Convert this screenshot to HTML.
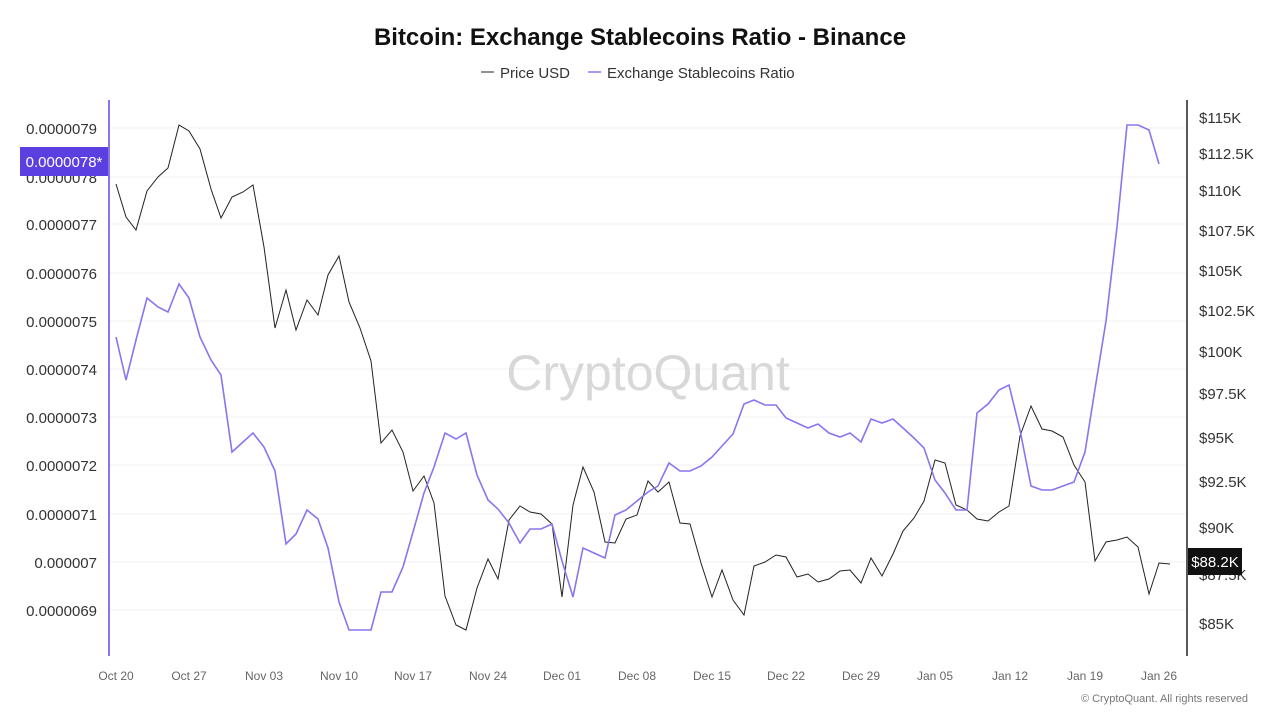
<!DOCTYPE html>
<html><head><meta charset="utf-8"><style>
body{margin:0;background:#fff;}
svg text{font-family:"Liberation Sans",sans-serif;}
</style></head><body>
<svg width="1280" height="720" xmlns="http://www.w3.org/2000/svg">
<rect width="1280" height="720" fill="#fff"/>
<text x="640" y="45" text-anchor="middle" font-size="24" font-weight="bold" fill="#111">Bitcoin: Exchange Stablecoins Ratio - Binance</text>
<line x1="481" y1="72" x2="494" y2="72" stroke="#222" stroke-width="1"/>
<text x="500" y="78" font-size="15" fill="#333">Price USD</text>
<line x1="588" y1="72" x2="601" y2="72" stroke="#8b74f0" stroke-width="1.5"/>
<text x="607" y="78" font-size="15" fill="#333">Exchange Stablecoins Ratio</text>
<g stroke="#f1f1f1" stroke-width="1">
<line x1="110" y1="128" x2="1186" y2="128"/><line x1="110" y1="177" x2="1186" y2="177"/><line x1="110" y1="224" x2="1186" y2="224"/><line x1="110" y1="273" x2="1186" y2="273"/><line x1="110" y1="321" x2="1186" y2="321"/><line x1="110" y1="369" x2="1186" y2="369"/><line x1="110" y1="417" x2="1186" y2="417"/><line x1="110" y1="465" x2="1186" y2="465"/><line x1="110" y1="514" x2="1186" y2="514"/><line x1="110" y1="562" x2="1186" y2="562"/><line x1="110" y1="610" x2="1186" y2="610"/>
</g>
<line x1="109" y1="100" x2="109" y2="656" stroke="#8b74f0" stroke-width="2"/>
<line x1="1187" y1="100" x2="1187" y2="656" stroke="#222" stroke-width="1.5"/>
<g font-size="15" fill="#333" text-anchor="end">
<text x="97" y="134">0.0000079</text><text x="97" y="183">0.0000078</text><text x="97" y="230">0.0000077</text><text x="97" y="279">0.0000076</text><text x="97" y="327">0.0000075</text><text x="97" y="375">0.0000074</text><text x="97" y="423">0.0000073</text><text x="97" y="471">0.0000072</text><text x="97" y="520">0.0000071</text><text x="97" y="568">0.000007</text><text x="97" y="616">0.0000069</text>
</g>
<g font-size="15" fill="#333">
<text x="1199" y="123">$115K</text><text x="1199" y="159">$112.5K</text><text x="1199" y="196">$110K</text><text x="1199" y="236">$107.5K</text><text x="1199" y="276">$105K</text><text x="1199" y="316">$102.5K</text><text x="1199" y="357">$100K</text><text x="1199" y="399">$97.5K</text><text x="1199" y="443">$95K</text><text x="1199" y="487">$92.5K</text><text x="1199" y="533">$90K</text><text x="1199" y="580">$87.5K</text><text x="1199" y="629">$85K</text>
</g>
<g font-size="12" fill="#666" text-anchor="middle">
<text x="116" y="680">Oct 20</text><text x="189" y="680">Oct 27</text><text x="264" y="680">Nov 03</text><text x="339" y="680">Nov 10</text><text x="413" y="680">Nov 17</text><text x="488" y="680">Nov 24</text><text x="562" y="680">Dec 01</text><text x="637" y="680">Dec 08</text><text x="712" y="680">Dec 15</text><text x="786" y="680">Dec 22</text><text x="861" y="680">Dec 29</text><text x="935" y="680">Jan 05</text><text x="1010" y="680">Jan 12</text><text x="1085" y="680">Jan 19</text><text x="1159" y="680">Jan 26</text>
</g>
<text x="648" y="390" text-anchor="middle" font-size="50" fill="#d8d8d8">CryptoQuant</text>
<polyline fill="none" stroke="#222" stroke-width="1" points="116,184 126,217 136,230 147,191 158,177 168,168 179,125 189,131 200,149 211,189 221,218 232,197 243,192 253,185 264,247 275,328 286,290 296,330 307,300 318,315 328,275 339,256 349,302 360,328 371,361 381,443 392,430 403,452 413,491 424,476 434,503 445,596 456,625 466,630 477,588 488,559 498,579 509,520 520,506 530,512 541,514 552,524 562,597 573,505 583,467 594,492 605,542 615,543 626,519 637,515 648,481 658,492 669,482 680,523 690,524 701,563 712,597 722,570 733,600 744,615 754,566 765,562 776,555 786,557 797,577 808,574 818,582 829,579 840,571 850,570 861,583 871,558 882,576 893,554 903,531 914,518 924,501 935,460 945,463 956,505 967,510 977,519 988,521 999,512 1009,506 1020,436 1031,406 1042,429 1052,431 1063,437 1074,465 1085,482 1095,561 1106,542 1117,540 1127,537 1138,547 1149,594 1159,563 1170,564"/>
<polyline fill="none" stroke="#8b74f0" stroke-width="1.6" points="116,337 126,380 136,340 147,298 158,307 168,312 179,284 189,298 200,337 211,360 221,375 232,452 243,442 253,433 264,447 275,471 286,544 296,534 307,510 318,519 328,548 339,602 349,630 360,630 371,630 381,592 392,592 403,567 413,532 424,493 434,467 445,433 456,439 466,433 477,475 488,500 498,509 509,523 520,543 530,529 541,529 552,524 562,561 573,597 583,548 594,553 605,558 615,515 626,510 637,501 648,492 658,486 669,463 680,471 690,471 701,466 712,457 722,446 733,434 744,404 754,400 765,405 776,405 786,418 797,423 808,428 818,424 829,433 840,437 850,433 861,442 871,419 882,423 893,419 903,428 914,438 924,448 935,480 945,493 956,510 967,510 977,413 988,404 999,390 1009,385 1020,430 1031,486 1042,490 1052,490 1063,486 1074,482 1085,452 1095,389 1106,321 1117,227 1127,125 1138,125 1149,130 1159,164"/>
<rect x="20" y="147" width="88" height="29" fill="#5b3fe0"/>
<text x="64" y="167" text-anchor="middle" font-size="15" fill="#fff">0.0000078*</text>
<rect x="1188" y="548" width="54" height="27" fill="#111"/>
<text x="1215" y="567" text-anchor="middle" font-size="15" fill="#fff">$88.2K</text>
<text x="1248" y="702" text-anchor="end" font-size="11" fill="#777">© CryptoQuant. All rights reserved</text>
</svg>
</body></html>
